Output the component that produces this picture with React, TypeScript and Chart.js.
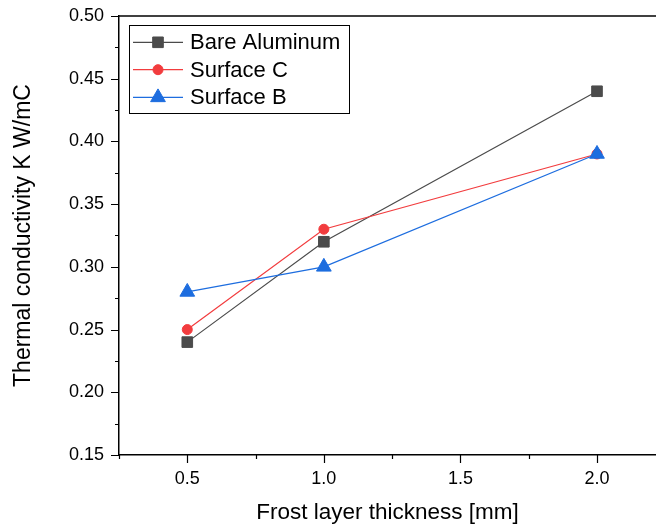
import React, { useEffect, useRef } from "react";
import { Chart, registerables } from "chart.js";

Chart.register(...registerables);

// ---- data ----
const thicknessMm = [0.5, 1.0, 2.0];
const bareAluminum = [0.24, 0.32, 0.44];
const surfaceC = [0.25, 0.33, 0.39];
const surfaceB = [0.28, 0.3, 0.39];
const seriesNames = ["Bare Aluminum", "Surface C", "Surface B"];
const xTickValues = [0.25, 0.5, 0.75, 1.0, 1.25, 1.5, 1.75, 2.0];
const yTickValues = [0.15, 0.175, 0.2, 0.225, 0.25, 0.275, 0.3, 0.325, 0.35, 0.375, 0.4, 0.425, 0.45, 0.475, 0.5];
const xTitle = "Frost layer thickness [mm]";
const yTitle = "Thermal conductivity K W/mC";

const FONT = "'Liberation Sans', Arial, sans-serif";
const GRAY = "#4b4b4b";
const RED = "#f23c3e";
const BLUE = "#1d6ddf";

const isMajorX = (v: number) => Math.abs(v * 2 - Math.round(v * 2)) < 1e-6;
const isMajorY = (v: number) => Math.abs(v * 20 - Math.round(v * 20)) < 1e-6;

function drawMarker(ctx: CanvasRenderingContext2D, style: string, x: number, y: number, r: number, color: string) {
  ctx.fillStyle = color;
  ctx.strokeStyle = color;
  ctx.lineWidth = 1;
  ctx.beginPath();
  if (style === "rect") {
    const s = r * Math.SQRT1_2;
    ctx.rect(x - s, y - s, 2 * s, 2 * s);
  } else if (style === "circle") {
    ctx.arc(x, y, r, 0, Math.PI * 2);
  } else {
    let rad = 0;
    ctx.moveTo(x + Math.sin(rad) * r, y - Math.cos(rad) * r);
    rad += (2 * Math.PI) / 3;
    ctx.lineTo(x + Math.sin(rad) * r, y - Math.cos(rad) * r);
    rad += (2 * Math.PI) / 3;
    ctx.lineTo(x + Math.sin(rad) * r, y - Math.cos(rad) * r);
    ctx.closePath();
  }
  ctx.fill();
  ctx.stroke();
}

const framePlugin = {
  id: "framePlugin",
  afterDraw(chart: any) {
    const { ctx, chartArea, scales } = chart;
    const xs = scales.x;
    const ys = scales.y;
    ctx.save();
    ctx.strokeStyle = "#000";
    ctx.lineWidth = 1.5;
    ctx.beginPath();
    ctx.moveTo(chartArea.left, chartArea.top);
    ctx.lineTo(chartArea.right, chartArea.top);
    ctx.stroke();

    ctx.lineWidth = 1.2;
    ctx.beginPath();
    xs.ticks.forEach((t: any) => {
      const px = Math.round(xs.getPixelForValue(t.value)) + 0.5;
      const len = isMajorX(t.value) ? 8 : 4;
      ctx.moveTo(px, chartArea.bottom);
      ctx.lineTo(px, chartArea.bottom + len);
    });
    ys.ticks.forEach((t: any) => {
      const py = Math.round(ys.getPixelForValue(t.value)) + 0.5;
      const len = isMajorY(t.value) ? 8 : 4;
      ctx.moveTo(chartArea.left, py);
      ctx.lineTo(chartArea.left - len, py);
    });
    ctx.stroke();

    // legend
    const bx = 129.5, by = 25.5, bw = 220, bh = 88;
    ctx.fillStyle = "#fff";
    ctx.fillRect(bx, by, bw, bh);
    ctx.strokeStyle = "#000";
    ctx.lineWidth = 1;
    ctx.strokeRect(bx, by, bw, bh);
    const rowY = [42.3, 69.7, 97.4];
    chart.data.datasets.forEach((ds: any, i: number) => {
      const y = rowY[i];
      ctx.strokeStyle = ds.borderColor;
      ctx.lineWidth = 1.2;
      ctx.beginPath();
      ctx.moveTo(133, y);
      ctx.lineTo(183, y);
      ctx.stroke();
      drawMarker(ctx, ds.pointStyle, 158, y, ds.pointStyle === "triangle" ? 8.5 : ds.pointStyle === "rect" ? 7.5 : 5, ds.pointBackgroundColor);
      ctx.fillStyle = "#000";
      ctx.font = `22px ${FONT}`;
      ctx.textBaseline = "middle";
      ctx.textAlign = "left";
      ctx.fillText(ds.label, 190, y + 1);
    });
    ctx.restore();
  },
};

export default function App() {
  const ref = useRef<HTMLCanvasElement | null>(null);

  useEffect(() => {
    if (!ref.current) return;
    const mk = (i: number, data: number[], color: string, style: string, radius: number, order: number) => ({
      label: seriesNames[i],
      data: thicknessMm.map((x, k) => ({ x, y: data[k] })),
      borderColor: color,
      backgroundColor: color,
      pointBackgroundColor: color,
      pointBorderColor: color,
      pointBorderWidth: 1,
      borderWidth: 1.2,
      pointStyle: style,
      pointRadius: radius,
      pointHoverRadius: radius,
      tension: 0,
      order,
    });
    const chart = new Chart(ref.current, {
      type: "line",
      data: {
        datasets: [
          mk(0, bareAluminum, GRAY, "rect", 7.5, 2),
          mk(1, surfaceC, RED, "circle", 5, 1),
          mk(2, surfaceB, BLUE, "triangle", 8.5, 0),
        ],
      },
      plugins: [framePlugin],
      options: {
        responsive: false,
        animation: false,
        events: [],
        layout: { autoPadding: false, padding: { top: 16, right: 0, left: 0, bottom: 0 } },
        plugins: { legend: { display: false }, tooltip: { enabled: false } },
        scales: {
          x: {
            type: "linear",
            min: 0.25,
            max: 2.216,
            afterBuildTicks: (s: any) => {
              s.ticks = xTickValues.map((v) => ({ value: v }));
            },
            afterFit: (s: any) => {
              s.height = 74;
              s.paddingLeft = 0;
              s.paddingRight = 0;
            },
            grid: { display: false, drawTicks: true, tickLength: 8 },
            border: { display: true, color: "#000", width: 1.5 },
            ticks: {
              autoSkip: false,
              maxRotation: 0,
              padding: 5,
              color: "#000",
              font: { family: FONT, size: 18 },
              callback: (v: any) => (isMajorX(Number(v)) && Number(v) >= 0.5 ? Number(v).toFixed(1) : ""),
            },
            title: {
              display: true,
              text: xTitle,
              color: "#000",
              font: { family: FONT, size: 22.5 },
              padding: { top: 0, bottom: 3 },
            },
          },
          y: {
            type: "linear",
            min: 0.15,
            max: 0.5,
            afterBuildTicks: (s: any) => {
              s.ticks = yTickValues.map((v) => ({ value: v }));
            },
            afterFit: (s: any) => {
              s.width = 119;
              s.paddingTop = 0;
              s.paddingBottom = 0;
            },
            grid: { display: false, drawTicks: true, tickLength: 8 },
            border: { display: true, color: "#000", width: 1.5 },
            ticks: {
              autoSkip: false,
              padding: 7,
              color: "#000",
              font: { family: FONT, size: 18 },
              callback: (v: any) => (isMajorY(Number(v)) ? Number(v).toFixed(2) : ""),
            },
            title: {
              display: true,
              text: yTitle,
              color: "#000",
              font: { family: FONT, size: 23 },
              padding: { top: 10, bottom: 0 },
            },
          },
        },
      },
    } as any);
    return () => chart.destroy();
  }, []);

  return (
    <div style={{ position: "fixed", left: 0, top: 0, width: 656, height: 529, background: "#fff" }}>
      <canvas ref={ref} width={656} height={529} style={{ width: 656, height: 529, display: "block" }} />
    </div>
  );
}
